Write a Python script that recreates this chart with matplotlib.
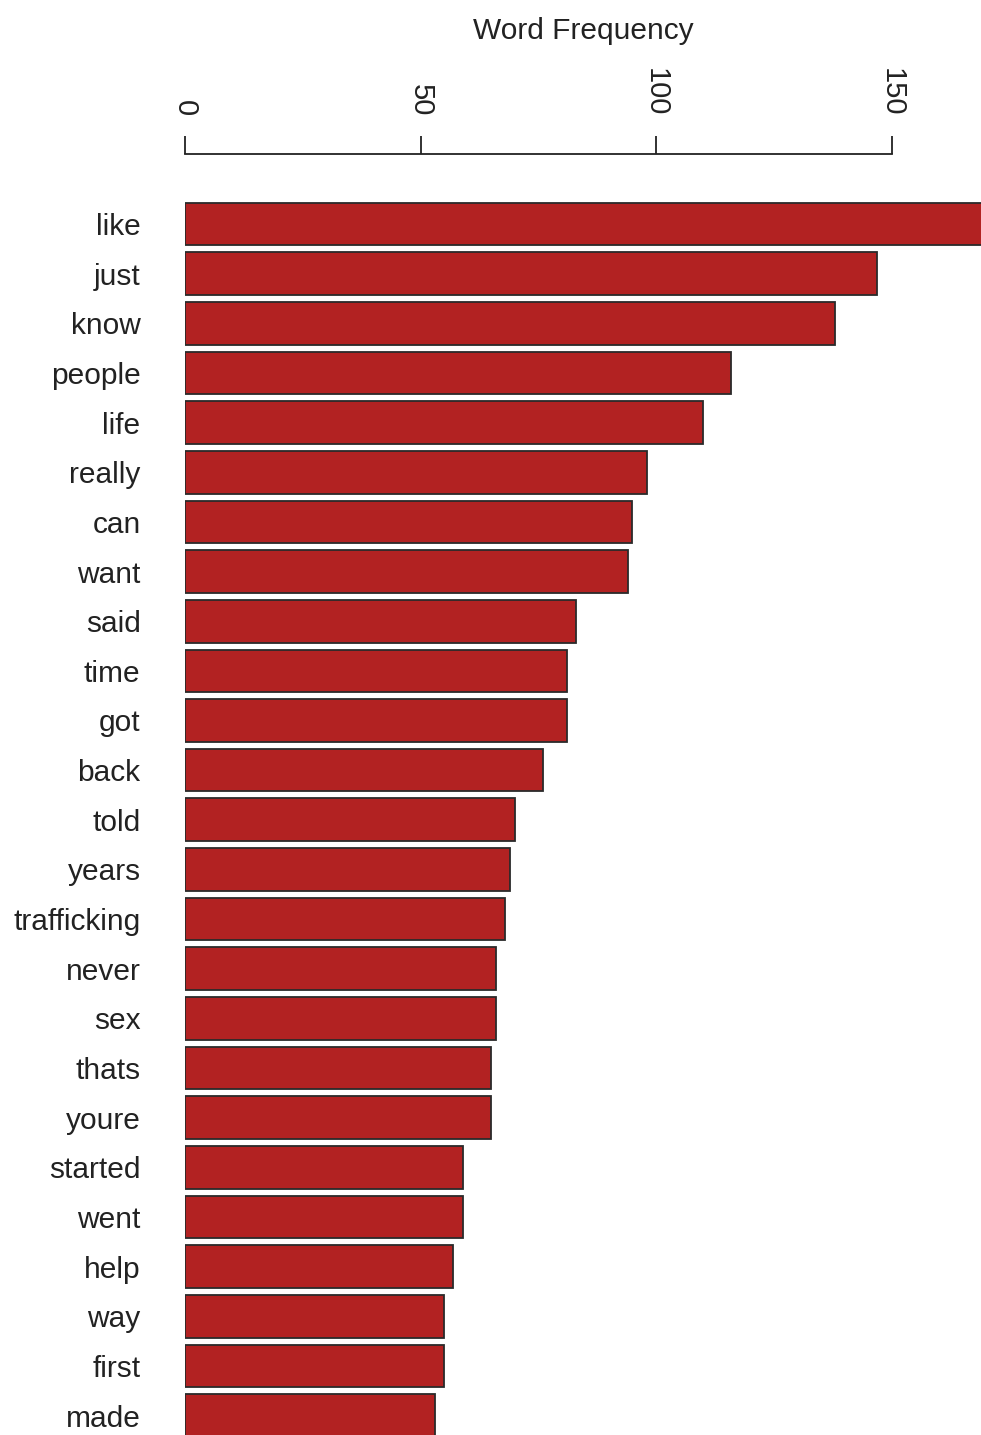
import matplotlib.pyplot as plt

# word counts (top to bottom)
words = ["like", "just", "know", "people", "life", "really", "can", "want",
         "said", "time", "got", "back", "told", "years", "trafficking",
         "never", "sex", "thats", "youre", "started", "went", "help",
         "way", "first", "made"]
freqs = [172, 147, 138, 116, 110, 98, 95, 94,
         83, 81, 81, 76, 70, 69, 68,
         66, 66, 65, 65, 59, 59, 57,
         55, 55, 53]
freq_ticks = [0, 50, 100, 150]

plt.rcParams['font.family'] = ['Liberation Sans', 'DejaVu Sans']

W, H = 981, 1435
fig = plt.figure(figsize=(W / 100, H / 100), dpi=100)

px_per_unit = 4.71
ax = fig.add_axes([185 / W, 0, 1 - 185 / W, 1 - 154 / H])

pos = list(range(len(words)))
ax.barh(pos, freqs, height=0.86, color="#b22222", edgecolor="#2a2a2a",
        linewidth=1.3)

ax.set_xlim(0, (W - 185) / px_per_unit)
ax.set_ylim((H - 224) / 49.65, (154 - 224) / 49.65)

for side in ["bottom", "left", "right"]:
    ax.spines[side].set_visible(False)
ax.spines["top"].set_bounds(0, 150)
ax.spines["top"].set_linewidth(1.3)
ax.spines["top"].set_color("#222222")

ax.xaxis.tick_top()
ax.set_xticks(freq_ticks)
ax.set_xticklabels([str(t) for t in freq_ticks], rotation=-90, va="bottom",
                   ha="center", fontsize=21, color="#222222")
ax.tick_params(axis="x", length=13, width=1.3, pad=14, color="#222222")

ax.set_yticks(pos)
ax.set_yticklabels(words, fontsize=21.5, color="#222222")
ax.tick_params(axis="y", length=0, pad=32)

fig.text(583 / W, 1 - 31 / H, "Word Frequency", ha="center", va="center",
         fontsize=21.5, color="#222222")

fig.savefig("out.png", dpi=100)
